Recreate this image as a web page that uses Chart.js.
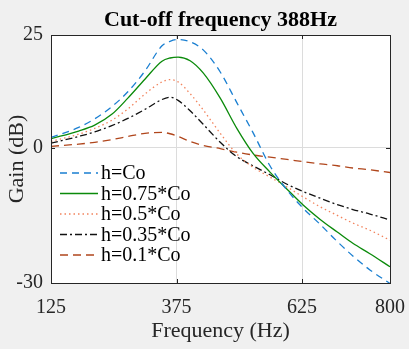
<!DOCTYPE html>
<html>
<head>
<meta charset="utf-8">
<script src="https://cdn.jsdelivr.net/npm/chart.js@4"></script>
<style>
  html, body { margin: 0; padding: 0; background: #f0f0f0; }
  #wrap { width: 409px; height: 349px; }
</style>
</head>
<body>
<div id="wrap"><canvas id="chart" width="409" height="349"></canvas></div>
<script>
// frequency samples (Hz)
const freqs = [125, 180, 212, 246, 278, 312, 346, 362, 378, 402, 428, 462, 495, 527, 561, 595, 627, 661, 695, 726, 760, 800];

// gain (dB) for each curve
const gainCo   = [2.3, 4.5, 6.4, 9.1, 12.4, 17.0, 22.6, 23.6, 24.0, 23.5, 21.7, 16.8, 10.0, 3.4, -4.0, -9.4, -13.4, -17.0, -20.8, -24.0, -27.1, -30.1];
const gain075  = [2.0, 3.7, 5.0, 7.4, 11.0, 15.2, 19.2, 19.9, 20.1, 19.3, 16.6, 11.0, 4.3, -1.2, -5.4, -9.2, -12.7, -15.9, -18.7, -21.2, -23.5, -26.4];
const gain05   = [1.4, 3.0, 4.3, 6.1, 8.6, 11.9, 14.6, 15.1, 14.6, 12.0, 8.4, 3.2, -1.4, -4.3, -6.5, -8.7, -10.9, -13.1, -15.0, -16.7, -18.3, -20.5];
const gain035  = [1.0, 2.5, 3.5, 4.9, 6.5, 8.5, 10.7, 11.2, 10.5, 8.2, 5.2, 1.2, -2.0, -4.0, -6.0, -8.1, -9.7, -11.2, -12.6, -13.7, -14.7, -16.0];
const gain01   = [0.3, 0.8, 1.2, 1.8, 2.5, 3.2, 3.4, 3.1, 2.5, 1.4, 0.5, -0.2, -1.0, -1.6, -2.1, -2.6, -3.1, -3.6, -4.0, -4.5, -4.9, -5.5];

const seriesLabels = ['h=Co', 'h=0.75*Co', 'h=0.5*Co', 'h=0.35*Co', 'h=0.1*Co'];
const xTicks = [125, 375, 625, 800];
const yTicks = [-30, 0, 25];
const titleText = 'Cut-off frequency 388Hz';

const serif = '"Liberation Serif", "Times New Roman", serif';

function pts(vals) {
    return freqs.map((f, i) => ({ x: f, y: vals[i] }));
}

function line(label, vals, color, dash) {
    return {
        label: label,
        data: pts(vals),
        borderColor: color,
        borderWidth: 1.3,
        borderDash: dash,
        pointRadius: 0,
        fill: false,
        cubicInterpolationMode: 'monotone'
    };
}

// title centred over the plot, frame, inner tick marks and the legend
const axesBox = {
    id: 'axesBox',
    afterDraw(chart) {
        const ctx = chart.ctx;
        const a = chart.chartArea;
        const xs = chart.scales.x, ys = chart.scales.y;
        ctx.save();
        ctx.fillStyle = '#000';
        ctx.font = 'bold 22px ' + serif;
        ctx.textAlign = 'center';
        ctx.textBaseline = 'middle';
        ctx.fillText(titleText, (a.left + a.right) / 2, 20);

        ctx.strokeStyle = '#262626';
        ctx.lineWidth = 1;
        ctx.setLineDash([]);
        ctx.strokeRect(Math.round(a.left) + 0.5, Math.round(a.top) + 0.5,
            Math.round(a.right - a.left), Math.round(a.bottom - a.top));
        ctx.beginPath();
        xTicks.forEach(v => {
            const x = Math.round(xs.getPixelForValue(v)) + 0.5;
            ctx.moveTo(x, a.bottom); ctx.lineTo(x, a.bottom - 4);
            ctx.moveTo(x, a.top); ctx.lineTo(x, a.top + 4);
        });
        yTicks.forEach(v => {
            const y = Math.round(ys.getPixelForValue(v)) + 0.5;
            ctx.moveTo(a.left, y); ctx.lineTo(a.left + 4, y);
            ctx.moveTo(a.right, y); ctx.lineTo(a.right - 4, y);
        });
        ctx.stroke();

        ctx.font = '20px ' + serif;
        ctx.textAlign = 'left';
        chart.data.datasets.forEach((ds, i) => {
            const y = a.top + 138 + i * 20.5;
            ctx.strokeStyle = ds.borderColor;
            ctx.lineWidth = ds.borderWidth;
            ctx.setLineDash(ds.borderDash || []);
            ctx.beginPath();
            ctx.moveTo(a.left + 9, y);
            ctx.lineTo(a.left + 47, y);
            ctx.stroke();
            ctx.setLineDash([]);
            ctx.fillStyle = '#000';
            ctx.fillText(ds.label, a.left + 50, y + 1);
        });
        ctx.restore();
    }
};

const plotBg = {
    id: 'plotBg',
    beforeDraw(chart) {
        const ctx = chart.ctx;
        const a = chart.chartArea;
        ctx.save();
        ctx.fillStyle = '#f0f0f0';
        ctx.fillRect(0, 0, chart.width, chart.height);
        ctx.fillStyle = '#ffffff';
        ctx.fillRect(a.left, a.top, a.right - a.left, a.bottom - a.top);
        ctx.restore();
    }
};

new Chart(document.getElementById('chart'), {
    type: 'line',
    data: {
        datasets: [
            line(seriesLabels[0], gainCo, '#1a7fd1', [7, 5]),
            line(seriesLabels[1], gain075, '#0a8a0a', []),
            line(seriesLabels[2], gain05, '#f2835c', [1.5, 3]),
            line(seriesLabels[3], gain035, '#111111', [7, 3, 2, 3]),
            line(seriesLabels[4], gain01, '#b0461c', [8, 5])
        ]
    },
    options: {
        responsive: false,
        animation: false,
        layout: { padding: { left: 4, right: 19, top: 35, bottom: 0 } },
        plugins: {
            legend: { display: false },
            tooltip: { enabled: false },
            title: { display: false }
        },
        scales: {
            x: {
                type: 'linear',
                min: 125,
                max: 800,
                afterBuildTicks: s => { s.ticks = xTicks.map(v => ({ value: v })); },
                afterFit: s => {
                    s.height = 66;
                    s.paddingLeft = 0;
                    s.paddingRight = 0;
                },
                grid: { color: '#dcdcdc', drawTicks: false },
                border: { display: false },
                ticks: {
                    color: '#262626',
                    padding: 13,
                    maxRotation: 0,
                    autoSkip: false,
                    font: { family: serif, size: 20 }
                },
                title: {
                    display: true,
                    text: 'Frequency (Hz)',
                    color: '#262626',
                    font: { family: serif, size: 22 },
                    padding: { top: 0, bottom: 5 }
                }
            },
            y: {
                min: -30,
                max: 25,
                afterBuildTicks: s => { s.ticks = yTicks.map(v => ({ value: v })); },
                afterFit: s => {
                    s.width = 47;
                    s.paddingTop = 0;
                    s.paddingBottom = 0;
                },
                grid: { color: '#dcdcdc', drawTicks: false },
                border: { display: false },
                ticks: {
                    color: '#262626',
                    padding: 8,
                    autoSkip: false,
                    font: { family: serif, size: 20 }
                },
                title: {
                    display: true,
                    text: 'Gain (dB)',
                    color: '#262626',
                    font: { family: serif, size: 22 },
                    padding: { top: 0, bottom: 0 }
                }
            }
        }
    },
    plugins: [plotBg, axesBox]
});
</script>
</body>
</html>
